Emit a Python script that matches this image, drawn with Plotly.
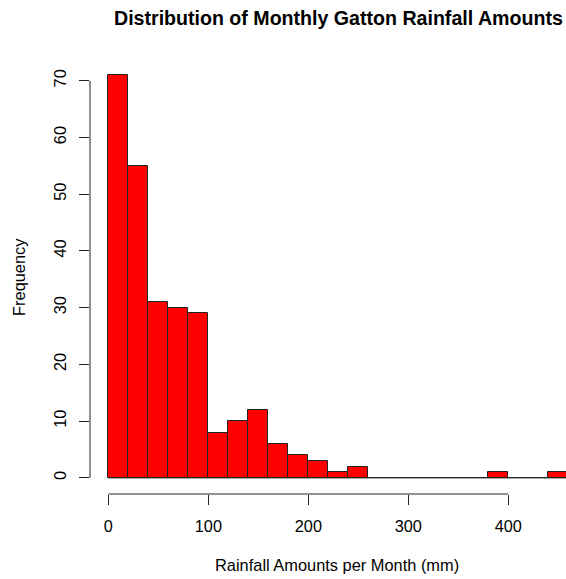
import plotly.graph_objects as go

# Histogram of monthly rainfall (20 mm bins)
bin_edges = list(range(0, 480, 20))
counts = [71, 55, 31, 30, 29, 8, 10, 12, 6, 4, 3, 1, 2,
          0, 0, 0, 0, 0, 0, 1, 0, 0, 1]
x_ticks = [0, 100, 200, 300, 400]
y_ticks = [0, 10, 20, 30, 40, 50, 60, 70]

title = "Distribution of Monthly Gatton Rainfall Amounts"
x_title = "Rainfall Amounts per Month (mm)"
y_title = "Frequency"

W, H = 566, 579
ml, mr, mt, mb = 89.6, 0, 58.7, 85.4
pw, ph = W - ml - mr, H - mt - mb

def px_x(p):
    return (p - ml) / pw

def px_y(p):
    return (H - mb - p) / ph

centers = [(a + b) / 2 for a, b in zip(bin_edges[:-1], bin_edges[1:])]
width = bin_edges[1] - bin_edges[0]

fig = go.Figure()
# empty bins show as flat outlines on the baseline
fig.add_trace(go.Scatter(
    x=[bin_edges[0], bin_edges[-1]], y=[0, 0], mode="lines",
    line=dict(color="#222", width=1), hoverinfo="skip", showlegend=False,
))
fig.add_trace(go.Bar(
    x=centers, y=counts, width=width,
    marker=dict(color="#ff0000", line=dict(color="#222", width=1)),
    showlegend=False,
))

font = dict(family="Liberation Sans, Arial, sans-serif", color="black")

fig.update_layout(
    width=W, height=H,
    margin=dict(l=ml, r=mr, t=mt, b=mb, pad=0),
    plot_bgcolor="white", paper_bgcolor="white",
    font=dict(size=16, **font),
    bargap=0,
    xaxis=dict(
        range=[-18.4, 457.7], showgrid=False, zeroline=False, showline=False,
        tickvals=x_ticks, ticks="outside", ticklen=10, tickwidth=1,
        tickcolor="#222", ticklabelstandoff=7, tickfont=dict(size=16.3, **font),
    ),
    yaxis=dict(
        range=[-2.84, 73.84], showgrid=False, zeroline=False, showline=False,
        tickvals=y_ticks, ticks="outside", ticklen=10, tickwidth=1,
        tickcolor="#222", tickangle=-90, ticklabelstandoff=6,
        tickfont=dict(size=16.3, **font),
    ),
    annotations=[
        dict(text="<b>" + title + "</b>", xref="paper", yref="paper",
             x=px_x(338), y=px_y(18), xanchor="center", yanchor="middle",
             showarrow=False, font=dict(size=19.6, **font)),
        dict(text=x_title, xref="paper", yref="paper",
             x=px_x(337), y=px_y(565), xanchor="center", yanchor="middle",
             showarrow=False, font=dict(size=16.4, **font)),
        dict(text=y_title, xref="paper", yref="paper", textangle=-90,
             x=px_x(18), y=0.5, xanchor="center", yanchor="middle",
             showarrow=False, font=dict(size=16.4, **font)),
    ],
    shapes=[
        # axis lines spanning only the tick range
        dict(type="line", xref="x", yref="paper", x0=x_ticks[0], x1=x_ticks[-1],
             y0=0, y1=0, line=dict(color="#222", width=1)),
        dict(type="line", xref="paper", yref="y", x0=0, x1=0,
             y0=y_ticks[0], y1=y_ticks[-1], line=dict(color="#222", width=1)),
    ],
)

fig.write_html("out.html")
